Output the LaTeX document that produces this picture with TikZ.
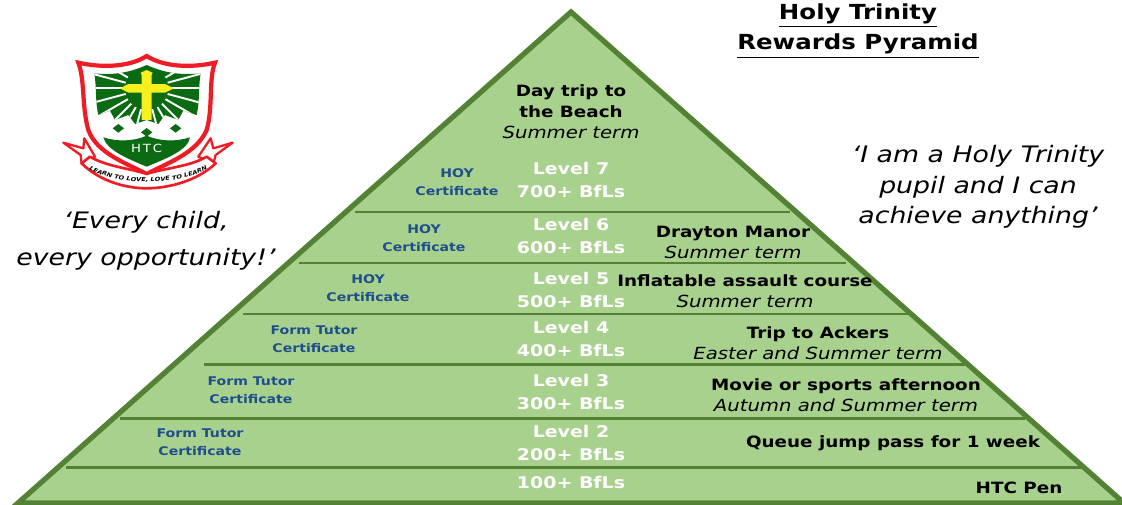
\documentclass[tikz,border=0pt]{standalone}
\usepackage{fontspec}
\setmainfont{DejaVu Sans}[FakeStretch=1.18]
\usetikzlibrary{decorations.text}
\definecolor{pyrfill}{HTML}{A9D18E}
\definecolor{pyrline}{HTML}{548235}
\definecolor{certblue}{HTML}{1F4E8C}
\definecolor{crestred}{HTML}{EE1C25}
\definecolor{crestgreen}{HTML}{0B6B12}
\definecolor{crestcross}{HTML}{F5F01E}
\newcommand{\rewardtitle}[1]{{\fontsize{8.85}{12}\selectfont\bfseries #1}}
\newcommand{\rewardterm}[1]{{\fontsize{9.5}{12}\selectfont\itshape #1}}
\tikzset{
	levelnode/.style={align=center,inner sep=0pt,text=white,font=\fontsize{9.15}{13.2}\selectfont\bfseries},
	certnode/.style={align=center,inner sep=0pt,text=certblue,font=\fontsize{6.8}{10}\selectfont\bfseries},
	rewardnode/.style={align=center,inner sep=0pt,text=black,font=\fontsize{9}{12}\selectfont},
	quotenode/.style={align=center,inner sep=0pt,text=black,font=\fontsize{12.9}{17.4}\selectfont\itshape},
	tailpart/.style={crestred,fill=white,line width=1.3pt,line join=round},
}
\begin{document}
\begin{tikzpicture}[x=0.02cm,y=-0.02cm]
		\useasboundingbox (0,0) rectangle (1122,504);
		% Draw the pyramid
		\begin{scope}
			\clip (0,0) rectangle (1122,504);
			\draw [pyrline,fill=pyrfill,line width=3pt,line join=miter] (571,12) -- (18,503) -- (1124,503) -- cycle;
		\end{scope}
		\foreach \ya/\xa/\xb in {212/355/790, 263/299/846, 314/243/908, 364/204/965, 418/120/1025, 467/66/1085}
			\draw [pyrline,line width=1.7pt] (\xa,\ya) -- (\xb,\ya);

		% Levels down the middle
		\foreach \n/\y/\ytext in {7/180/Level 7\\700+ BfLs, 6/236/Level 6\\600+ BfLs, 5/290/Level 5\\500+ BfLs, 4/339/Level 4\\400+ BfLs, 3/392/Level 3\\300+ BfLs, 2/443/Level 2\\200+ BfLs, 1/482/100+ BfLs}
			\node [levelnode] (level\n) at (571,\y) {\ytext};

		% Certificates on the left
		\foreach \n/\x/\y/\ytext in {7/457/182/HOY, 6/424/238/HOY, 5/368/288/HOY, 4/314/339/Form Tutor, 3/251/390/Form Tutor, 2/200/442/Form Tutor}
			\node [certnode] (cert\n) at (\x,\y) {\ytext\\Certificate};

		% Rewards on the right
		\node [rewardnode] (reward8) at (571,112) {\rewardtitle{Day trip to}\\\rewardtitle{the Beach}\\\rewardterm{Summer term}};
		\node [rewardnode] (reward6) at (733,242) {\rewardtitle{Drayton Manor}\\\rewardterm{Summer term}};
		\node [rewardnode] (reward5) at (745,291) {\rewardtitle{Inflatable assault course}\\\rewardterm{Summer term}};
		\node [rewardnode] (reward4) at (818,343) {\rewardtitle{Trip to Ackers}\\\rewardterm{Easter and Summer term}};
		\node [rewardnode] (reward3) at (846,395) {\rewardtitle{Movie or sports afternoon}\\\rewardterm{Autumn and Summer term}};
		\node [rewardnode] (reward2) at (893,443) {\rewardtitle{Queue jump pass for 1 week}};
		\node [rewardnode] (reward1) at (1019,488) {\rewardtitle{HTC Pen}};

		% Title and quotes
		\node [align=center,inner sep=0pt,font=\fontsize{11.8}{17.2}\selectfont\bfseries] (title) at (858,31) {\underline{Holy Trinity}\\\underline{Rewards Pyramid}};
		\node [quotenode] (quoteright) at (978,187) {‘I am a Holy Trinity\\pupil and I can\\achieve anything’};
		\node [quotenode,font=\fontsize{12.9}{21}\selectfont\itshape] (quoteleft) at (146,241) {‘Every child,\\every opportunity!’};

		% Crest, in the coordinates of a 3x crop
		\begin{scope}[shift={(50,40)},x=0.006667cm,y=-0.006667cm]
			% ribbon tails
			\draw [tailpart] (40,308) -- (100,325) -- (103,295) -- (135,350) -- (95,372) -- (92,345) -- cycle;
			\draw [tailpart] (548,308) -- (490,325) -- (482,295) -- (445,350) -- (490,372) -- (497,345) -- cycle;
			% shield
			\draw [crestred,fill=white,line width=2.4pt] (85,68) .. controls (160,85) and (240,80) .. (290,48) .. controls (340,80) and (420,85) .. (495,68) .. controls (475,120) and (490,200) .. (470,270) .. controls (440,340) and (350,370) .. (290,402) .. controls (230,370) and (140,340) .. (115,270) .. controls (95,200) and (105,120) .. (85,68) -- cycle;
			\begin{scope}
				\clip (133,100) .. controls (180,105) and (230,102) .. (290,75) .. controls (350,102) and (400,105) .. (452,100) .. controls (445,140) and (450,180) .. (440,225) -- (400,212) -- (385,240) -- (345,225) -- (325,252) -- (290,240) -- (255,252) -- (235,225) -- (195,240) -- (180,212) -- (145,225) .. controls (135,180) and (140,140) .. (133,100) -- cycle;
				\fill [crestgreen] (120,60) rectangle (460,270);
				\foreach \a in {-150,-165,...,-395}
					\draw [white,line width=1.1pt] (290,145) ++(\a:65) -- ++(\a:120);
			\end{scope}
			\foreach \x/\y in {205/265, 290/277, 377/265}
				\fill [crestgreen] (\x-17,\y) -- (\x,\y-13) -- (\x+17,\y) -- (\x,\y+13) -- cycle;
			\fill [crestgreen] (160,292) .. controls (200,305) and (250,305) .. (290,287) .. controls (330,305) and (380,305) .. (420,292) .. controls (415,330) and (350,355) .. (290,380) .. controls (230,355) and (170,330) .. (160,292) -- cycle;
			\node [inner sep=0pt,text=white,font=\fontsize{6.4}{7}\selectfont] (crestname) at (290,326) {H\,T\,C};
			% cross
			\fill [crestcross] (275,105) -- (272,98) -- (290,90) -- (308,98) -- (305,105) -- (305,132) -- (345,132) -- (372,145) -- (345,158) -- (305,158) -- (305,240) -- (275,240) -- (275,158) -- (235,158) -- (210,145) -- (235,132) -- (275,132) -- cycle;
			% ribbon band
			\draw [crestred,fill=white,line width=1.5pt,line join=round] (95,370) .. controls (150,425) and (230,445) .. (290,445) .. controls (350,445) and (440,425) .. (497,370) -- (470,350) .. controls (420,380) and (340,385) .. (290,402) .. controls (240,385) and (170,380) .. (120,350) -- cycle;
			\path [postaction={decorate,decoration={text along path,text align=center,text={|\fontsize{3.2}{4}\selectfont\bfseries\itshape|LEARN TO LOVE, LOVE TO LEARN}}}] (112,384) .. controls (170,420) and (240,425) .. (290,425) .. controls (340,425) and (420,420) .. (478,384);
		\end{scope}
	\end{tikzpicture}
\end{document}
